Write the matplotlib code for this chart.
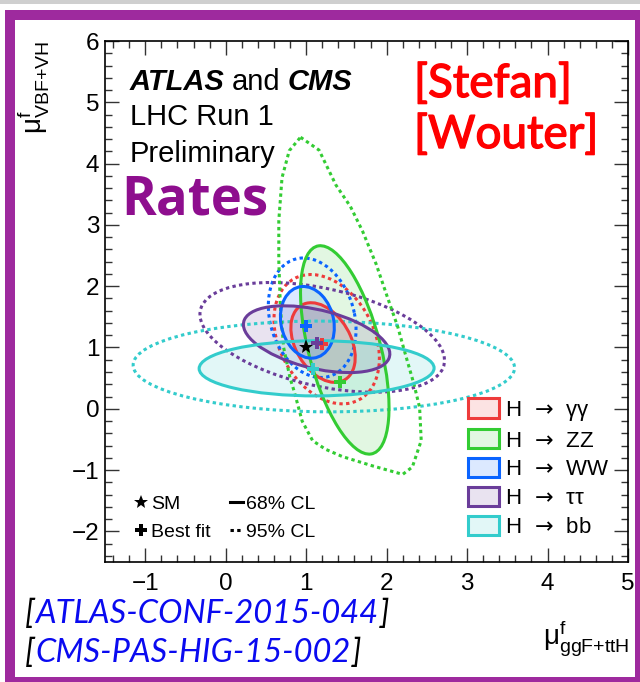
import numpy as np
import matplotlib
matplotlib.use("Agg")
import matplotlib.pyplot as plt
import matplotlib.patheffects as pe
from matplotlib.patches import Ellipse, Polygon, Patch, Rectangle
from matplotlib.lines import Line2D
from matplotlib.ticker import MultipleLocator
from matplotlib.transforms import Affine2D
from matplotlib.colors import to_rgba

plt.rcParams['font.family'] = ['Liberation Sans', 'DejaVu Sans']
plt.rcParams['mathtext.fontset'] = 'custom'
plt.rcParams['mathtext.rm'] = 'Liberation Sans'
plt.rcParams['mathtext.it'] = 'Liberation Sans:italic'
plt.rcParams['mathtext.bf'] = 'Liberation Sans:bold'
plt.rcParams['mathtext.sf'] = 'DejaVu Sans'

# ---- data -------------------------------------------------------------
decays = ['γγ', 'ZZ', 'WW', 'ττ', 'bb']
channels = [r'H $\,\mathsf{\rightarrow}\,$ ' + d for d in decays]
line_colors = ['#EE3B3B', '#33CC33', '#0A64FF', '#6A3D9A', '#33CCCC']

sm_ggf, sm_vbf = 1.0, 1.0

best_fit_ggf = [1.20, 1.42, 1.00, 1.13, 1.08]
best_fit_vbf = [1.05, 0.43, 1.35, 1.07, 0.65]

# 68% CL regions: centre, half extent along each axis, correlation
cl68_cx = [1.21, 1.48, 1.015, 1.13, 1.13]
cl68_cy = [1.08, 0.96, 1.41, 1.135, 0.66]
cl68_sx = [0.40, 0.55, 0.335, 0.91, 1.46]
cl68_sy = [0.65, 1.70, 0.585, 0.545, 0.45]
cl68_rho = [-0.37, -0.55, -0.15, -0.44, 0.01]

# 95% CL regions for γγ, WW, ττ, bb (same parametrisation)
cl95_channels = [0, 2, 3, 4]
cl95_cx = [1.255, 1.075, 1.20, 1.22]
cl95_cy = [1.135, 1.485, 1.165, 0.69]
cl95_sx = [0.655, 0.545, 1.52, 2.37]
cl95_sy = [1.055, 0.975, 0.895, 0.74]
cl95_rho = [-0.30, -0.20, -0.42, -0.03]

# 95% CL outline for ZZ
zz95_ggf = [0.93, 1.16, 1.37, 1.55, 1.70, 1.87, 2.01, 2.14, 2.22, 2.34, 2.41,
            2.43, 2.32, 2.20, 1.82, 1.45, 1.24, 1.08, 0.95, 0.85, 0.80, 0.72,
            0.68, 0.66, 0.66, 0.70, 0.79]
zz95_vbf = [4.43, 4.22, 3.65, 3.30, 2.90, 2.36, 1.82, 1.33, 0.95, 0.40, 0.02,
            -0.52, -0.95, -1.07, -0.93, -0.78, -0.66, -0.52, -0.20, 0.29, 0.50,
            1.00, 1.65, 2.41, 3.07, 3.77, 4.21]

x_ticks = [-1, 0, 1, 2, 3, 4, 5]
y_ticks = [-2, -1, 0, 1, 2, 3, 4, 5, 6]

# ---- figure -----------------------------------------------------------
W, H = 640, 682
fig = plt.figure(figsize=(W / 100, H / 100), dpi=100)
fig.patch.set_facecolor('white')
pix = Affine2D().scale(1 / W, -1 / H).translate(0, 1) + fig.transFigure


def fx(px):
    return px / W


def fy(py):
    return 1 - py / H


ax = fig.add_axes([fx(105), fy(562), (628 - 105) / W, (562 - 41) / H])
ax.set_xlim(-1.5, 5)
ax.set_ylim(-2.5, 6)


def cl_ellipse(cx, cy, sx, sy, rho, **kw):
    cov = np.array([[sx * sx, rho * sx * sy], [rho * sx * sy, sy * sy]])
    vals, vecs = np.linalg.eigh(cov)
    i = int(np.argmax(vals))
    angle = np.degrees(np.arctan2(vecs[1, i], vecs[0, i]))
    return Ellipse((cx, cy), 2 * np.sqrt(vals[i]), 2 * np.sqrt(vals[1 - i]),
                   angle=angle, **kw)


FILL_ALPHA = 0.14
LW = 2.2
DOTS = (0, (1.1, 1.1))

# filled 68% regions
for k in range(len(channels)):
    ax.add_patch(cl_ellipse(cl68_cx[k], cl68_cy[k], cl68_sx[k], cl68_sy[k],
                            cl68_rho[k], facecolor=to_rgba(line_colors[k], FILL_ALPHA),
                            edgecolor='none', zorder=1))

# 95% outlines
for j, k in enumerate(cl95_channels):
    ax.add_patch(cl_ellipse(cl95_cx[j], cl95_cy[j], cl95_sx[j], cl95_sy[j],
                            cl95_rho[j], facecolor='none', edgecolor=line_colors[k],
                            lw=LW, linestyle=DOTS, zorder=2))
ax.add_patch(Polygon(np.column_stack([zz95_ggf, zz95_vbf]), closed=True,
                     facecolor='none', edgecolor=line_colors[1], lw=LW,
                     linestyle=DOTS, zorder=2))

# 68% outlines
for k in range(len(channels)):
    ax.add_patch(cl_ellipse(cl68_cx[k], cl68_cy[k], cl68_sx[k], cl68_sy[k],
                            cl68_rho[k], facecolor='none', edgecolor=line_colors[k],
                            lw=LW, zorder=3))

# best-fit points and SM
for k in range(len(channels)):
    ax.plot(best_fit_ggf[k], best_fit_vbf[k], marker='P', ms=8.5, mew=0,
            color=line_colors[k], zorder=5)
ax.plot(sm_ggf, sm_vbf, marker='*', ms=11, mew=0, color='black', zorder=6)

# axes styling
ax.set_xticks(x_ticks)
ax.set_yticks(y_ticks)
ax.xaxis.set_minor_locator(MultipleLocator(0.2))
ax.yaxis.set_minor_locator(MultipleLocator(0.2))
ax.tick_params(which='both', direction='in', top=True, right=True, width=1.0,
               color='#333333')
ax.tick_params(which='major', length=10, labelsize=17.5)
ax.tick_params(which='minor', length=5)
ax.tick_params(axis='x', pad=8)
ax.tick_params(axis='y', pad=4)
for s in ax.spines.values():
    s.set_linewidth(1.2)

# channel legend
ch_handles = [Patch(facecolor=to_rgba(c, FILL_ALPHA), edgecolor=c, linewidth=LW)
              for c in line_colors]
leg1 = ax.legend(ch_handles, channels, loc='upper left',
                 bbox_to_anchor=(0.694, 0.314), frameon=False, fontsize=16,
                 handlelength=1.4, handleheight=0.95, handletextpad=0.25,
                 labelspacing=0.3, borderpad=0, borderaxespad=0)
ax.add_artist(leg1)

key_handles = [Line2D([], [], ls='none', marker='*', ms=10, mew=0, color='black'),
               Line2D([], [], ls='none', marker='P', ms=8, mew=0, color='black'),
               Line2D([], [], color='black', lw=LW),
               Line2D([], [], color='black', lw=LW, ls=DOTS)]
key_labels = ['SM', 'Best fit', '68% CL', '95% CL']
ax.legend(key_handles, key_labels, ncol=2, loc='upper left',
          bbox_to_anchor=(0.056, 0.128), frameon=False, fontsize=14,
          handlelength=0.65, handletextpad=0.2, columnspacing=1.0,
          labelspacing=0.52, borderpad=0, borderaxespad=0)

# axis titles
fig.text(fx(629), fy(658), r'$\mathrm{\mu}^{\mathrm{f}}_{\mathrm{ggF{+}ttH}}$',
         ha='right', va='bottom', fontsize=20)
fig.text(fx(51), fy(41), r'$\mathrm{\mu}^{\mathrm{f}}_{\mathrm{VBF{+}VH}}$',
         ha='right', va='top', rotation=90, fontsize=20)

renderer = fig.canvas.get_renderer()


def text_piece(x, y, s, **kw):
    """Draw one text piece on a baseline and return where it ends."""
    t = fig.text(fx(x), fy(y), s, va='baseline', ha='left', **kw)
    return t.get_window_extent(renderer).x1


bi = dict(fontweight='bold', fontstyle='italic')
x_end = text_piece(130, 90, 'ATLAS', fontsize=21, **bi)
x_end = text_piece(x_end + 7, 90, 'and', fontsize=21)
text_piece(x_end + 7, 90, 'CMS', fontsize=21, **bi)
fig.text(fx(130), fy(125), 'LHC Run 1', fontsize=21, va='baseline')
fig.text(fx(130), fy(162), 'Preliminary', fontsize=21, va='baseline')
fig.text(fx(121), fy(215), 'Rates', fontsize=38, fontweight='bold',
         family='Open Sans', color='#8E0E8E', va='baseline')

thick = [pe.withStroke(linewidth=1.0, foreground='#FF0000')]
fig.text(fx(414), fy(97), '[Stefan]', fontsize=33, family='Lato',
         color='#FF0000', va='baseline', path_effects=thick)
fig.text(fx(414), fy(148), '[Wouter]', fontsize=33, family='Lato',
         color='#FF0000', va='baseline', path_effects=thick)

cite = dict(fontsize=23.5, family='Lato', fontstyle='italic')
for yb, ref in [(623, 'ATLAS-CONF-2015-044'), (662, 'CMS-PAS-HIG-15-002')]:
    x0 = text_piece(25, yb, '[', color='black', **cite)
    x0 = text_piece(x0 + 1, yb, ref, color='#0A0AF0', **cite)
    text_piece(x0 + 1, yb, ']', color='black', **cite)

# slide frame
purple = '#9E2A9E'
for (x, y, w, h, c) in [(0, 0, 640, 4, '#cfcfcf'),
                        (5, 10, 634, 10, purple),
                        (5, 10, 10, 672, purple),
                        (635, 10, 5, 672, purple),
                        (5, 677, 635, 5, purple)]:
    fig.add_artist(Rectangle((x, y), w, h, transform=pix, facecolor=c,
                             edgecolor='none', zorder=20))

fig.savefig('out.png', dpi=100)
